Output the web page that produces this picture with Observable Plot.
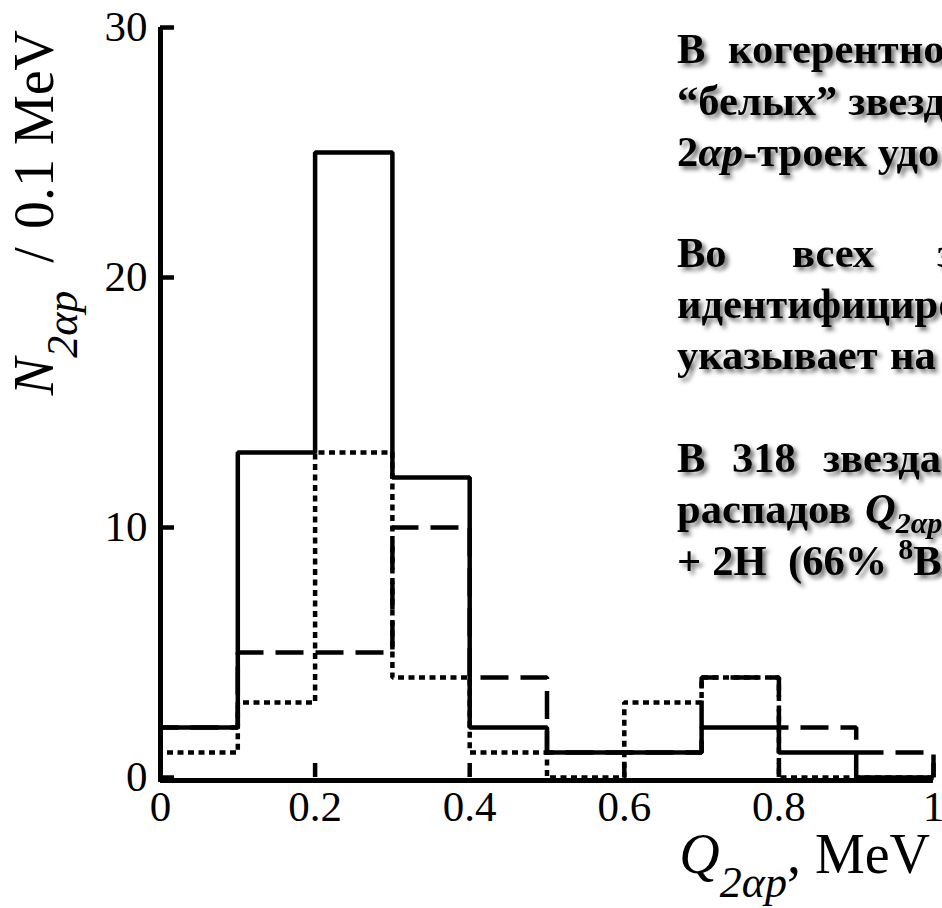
<!DOCTYPE html>
<html>
<head>
<meta charset="utf-8">
<script src="https://cdn.jsdelivr.net/npm/d3@7"></script>
<script src="https://cdn.jsdelivr.net/npm/@observablehq/plot@0.6"></script>
<style>
html, body { margin: 0; padding: 0; background: #fff; overflow: hidden; }
#chart { width: 942px; height: 908px; }
</style>
</head>
<body>
<div id="chart"></div>
<script>
// ---- data ----
const binStarts = [0, 0.1, 0.2, 0.3, 0.4, 0.5, 0.6, 0.7, 0.8, 0.9];
const binWidth = 0.1;
const solidCounts  = [2, 13, 25, 12, 2, 1, 1, 2, 1, 0];
const dashedCounts = [2, 5, 5, 10, 4, 1, 1, 4, 2, 1];
const dottedCounts = [1, 3, 13, 4, 1, 0, 3, 4, 0, 0];
const xTicks = [0, 0.2, 0.4, 0.6, 0.8, 1];
const yTicks = [0, 10, 20, 30];
const xDomain = [0, 1];
const yDomain = [0, 30];

// slide text lines (visible part)
const noteLines = [
  [[{t: "В"}], [{t: "когерентно"}]],
  [[{t: "“белых”"}], [{t: "звезд"}]],
  [[{t: "2"}, {t: "αp", i: true}, {t: "-троек"}], [{t: "удо"}]],
  [[{t: "Во"}], [{t: "всех"}], [{t: "з"}]],
  [[{t: "идентифициро"}]],
  [[{t: "указывает"}], [{t: "на"}]],
  [[{t: "В"}], [{t: "318"}], [{t: "звезда"}]],
  [[{t: "распадов"}], [{t: "Q", i: true}, {t: "2αp", i: true, sub: true}]],
  [[{t: "+"}], [{t: "2H"}], [{t: "(66%"}], [{t: "8", sup: true}, {t: "Be", after: true}]]
];
const noteWordOffsets = [
  [0, 51], [0, 155], [0, 171], [0, 115, 260], [0], [0, 213], [0, 55, 146], [0, 188], [0, 33, 111, 213]
];
const noteBaselines = [63, 115, 166, 267, 318, 369, 472, 523, 575];

// ---- build step points ----
function stepPoints(counts) {
  const pts = [{x: binStarts[0], y: 0}];
  counts.forEach((c, i) => pts.push({x: binStarts[i], y: c}));
  pts.push({x: binStarts[binStarts.length - 1] + binWidth, y: 0});
  return pts;
}

const serif = "'Liberation Serif', 'Times New Roman', serif";
const lineCommon = {x: "x", y: "y", curve: "step-after", stroke: "black", strokeWidth: 4.5, strokeLinecap: "butt", strokeLinejoin: "miter"};

const chart = Plot.plot({
  width: 942,
  height: 908,
  marginLeft: 160,
  marginRight: 9,
  marginTop: 27,
  marginBottom: 131,
  style: {fontFamily: serif, background: "white", color: "black"},
  x: {domain: xDomain, nice: false},
  y: {domain: yDomain, nice: false},
  marks: [
    Plot.ruleX([0], {stroke: "black", strokeWidth: 5, insetBottom: -5}),
    Plot.ruleY([0], {stroke: "black", strokeWidth: 5, dy: 3}),
    Plot.line(stepPoints(dottedCounts), {...lineCommon, strokeDasharray: "6,4.5"}),
    Plot.line(stepPoints(dashedCounts), {...lineCommon, strokeDasharray: "28,12"}),
    Plot.line(stepPoints(solidCounts), lineCommon),
    Plot.axisX({ticks: xTicks, tickSize: -14, tickPadding: 27, strokeWidth: 4.5, fontSize: 43, fontFamily: serif, tickFormat: d => String(d), label: null}),
    Plot.axisY({ticks: yTicks, tickSize: -14, tickPadding: 27, strokeWidth: 4.5, fontSize: 43, fontFamily: serif, tickFormat: d => String(d), label: null})
  ]
});
document.getElementById("chart").appendChild(chart);

const svg = d3.select(chart);

// y axis label
const yl = svg.append("text")
  .attr("transform", "translate(53,30) rotate(-90)")
  .attr("text-anchor", "end")
  .attr("font-family", serif)
  .attr("font-size", 56)
  .attr("fill", "black");
yl.append("tspan").attr("font-style", "italic").text("N");
yl.append("tspan").attr("font-style", "italic").attr("font-size", 44).attr("dy", 24).text("2αp");
yl.append("tspan").attr("dy", -24).attr("dx", 28).text("/");
yl.append("tspan").attr("dx", 18).text("0.1 MeV");

// x axis label
const xl = svg.append("text")
  .attr("x", 930).attr("y", 873)
  .attr("text-anchor", "end")
  .attr("font-family", serif)
  .attr("font-size", 56)
  .attr("fill", "black");
xl.append("tspan").attr("font-style", "italic").text("Q");
xl.append("tspan").attr("font-style", "italic").attr("font-size", 44).attr("dy", 24).text("2αp");
xl.append("tspan").attr("dy", -24).text(", MeV");

// slide text with shadow
const defs = svg.append("defs");
defs.append("filter").attr("id", "shadow").attr("x", "-5%").attr("y", "-20%").attr("width", "120%").attr("height", "160%")
  .append("feDropShadow").attr("dx", 3.5).attr("dy", 3.5).attr("stdDeviation", 2)
  .attr("flood-color", "#000").attr("flood-opacity", 0.55);

const X0 = 677;
const notes = svg.append("g").attr("filter", "url(#shadow)")
  .attr("font-family", serif).attr("font-weight", "bold").attr("font-size", 42.5)
  .attr("fill", "black").attr("text-anchor", "start");
noteLines.forEach((words, li) => {
  let prevEnd = -Infinity;
  words.forEach((segs, wi) => {
    const x = Math.max(X0 + noteWordOffsets[li][wi], prevEnd + 11);
    const t = notes.append("text").attr("text-anchor", "start")
      .attr("x", x).attr("y", noteBaselines[li]);
    segs.forEach(s => {
      const ts = t.append("tspan").text(s.t);
      if (s.i) ts.attr("font-style", "italic");
      if (s.sub) ts.attr("font-size", 30).attr("dy", 10);
      if (s.sup) ts.attr("font-size", 30).attr("dy", -16);
      if (s.after) ts.attr("dy", 16);
    });
    prevEnd = x + t.node().getComputedTextLength();
  });
});
</script>
</body>
</html>
